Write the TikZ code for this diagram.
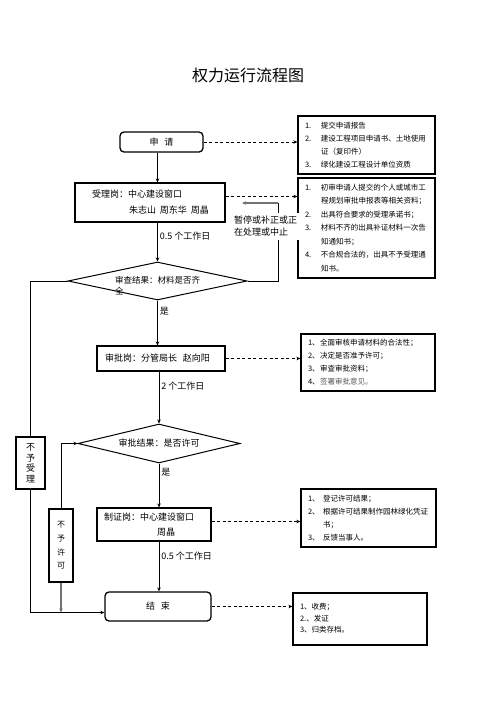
\documentclass[tikz,border=0pt]{standalone}
\usepackage{fontspec}
\setmainfont{Noto Sans CJK SC}
\usetikzlibrary{arrows.meta,shapes.geometric}
\tikzset{
  flow/.style  = {rectangle, draw, line width=1.1pt, align=left, inner ysep=0pt},
  term/.style  = {rectangle, rounded corners=4pt, draw, line width=1.3pt, inner sep=0pt},
  judge/.style = {diamond, draw, line width=1pt, inner sep=0pt},
  note/.style  = {rectangle, draw, line width=1.3pt, align=left,
                  font=\fontsize{7.5}{13}\selectfont, inner xsep=7pt, inner ysep=0pt},
  vbox/.style  = {rectangle, draw, line width=1.1pt, align=center, inner sep=0pt},
  arr/.style   = {-{Stealth[length=4pt,width=3.5pt]}, line width=0.9pt},
  darr/.style  = {arr, dash pattern=on 3pt off 2.5pt},
  garr/.style  = {arr, draw=black!55, line width=1.5pt},
  lbl/.style   = {inner sep=2pt},
}

\begin{document}
\begin{tikzpicture}[x=1pt, y=-1pt, font=\fontsize{9}{11}\selectfont]
\useasboundingbox (0,0) rectangle (496,702);

% title
\node[font=\fontsize{16}{18}\selectfont] (title) at (248,75) {权力运行流程图};

% main flow
\node[term, minimum width=83pt, minimum height=20pt] (apply) at (161.5,142) {申\hspace{6pt}请};
\node[flow, minimum height=39pt, inner xsep=8pt, text width=134pt,
      font=\fontsize{9}{16}\selectfont] (recv) at (150,202.5)
  {\hspace*{9pt}受理岗：中心建设窗口\\\hspace*{46pt}朱志山\hspace{4pt}周东华\hspace{4pt}周晶};
\node[judge, minimum width=179pt, minimum height=38pt,
      label={[align=left, yshift=-5pt, font=\fontsize{8.5}{11}\selectfont]center:审查结果：材料是否齐\\全}]
  (chk1) at (157.5,281) {};
\node[flow, minimum height=25pt, inner xsep=8pt, text width=112pt] (approve) at (161,358.5)
  {审批岗：分管局长\hspace{6pt}赵向阳};
\node[judge, minimum width=162pt, minimum height=39pt,
      label={center:审批结果：是否许可}] (chk2) at (159,443.5) {};
\node[flow, minimum height=33pt, inner xsep=7pt, text width=100pt,
      font=\fontsize{9}{15}\selectfont] (issue) at (154,524.5)
  {制证岗：中心建设窗口\\\hspace*{53pt}周晶};
\node[term, minimum width=106pt, minimum height=29pt] (end) at (158,606.5) {结\hspace{6pt}束};

% refusal boxes
\node[vbox, minimum width=29pt, minimum height=52pt, font=\fontsize{9}{10.5}\selectfont]
  (nosl) at (30.5,463) {不\\予\\受\\理};
\node[vbox, minimum width=24pt, minimum height=73pt, font=\fontsize{8}{13.7}\selectfont]
  (nopm) at (61,545.5) {不\\予\\许\\可};

% notes on the right
\node[note, minimum width=137pt, minimum height=58pt, text width=123pt] (n1) at (366.5,145) {%
  \begin{tabular}{@{}p{16pt}@{}l@{}}
  1. & 提交申请报告\\
  2. & 建设工程项目申请书、土地使用\\
     & 证（复印件）\\
  3. & 绿化建设工程设计单位资质
  \end{tabular}};
\node[note, minimum width=137pt, minimum height=100pt, text width=123pt,
      font=\fontsize{7.5}{13.5}\selectfont] (n2) at (366.5,228) {%
  \begin{tabular}{@{}p{16pt}@{}l@{}}
  1. & 初审申请人提交的个人或城市工\\
     & 程规划审批申报表等相关资料；\\
  2. & 出具符合要求的受理承诺书；\\
  3. & 材料不齐的出具补证材料一次告\\
     & 知通知书；\\
  4. & 不合规合法的，出具不予受理通\\
     & 知书。
  \end{tabular}};
\node[note, minimum width=134pt, minimum height=57pt, text width=120pt] (n3) at (368,362.5) {%
  \begin{tabular}{@{}p{12pt}@{}l@{}}
  1、 & 全面审核申请材料的合法性；\\
  2、 & 决定是否准予许可；\\
  3、 & 审查审批资料；\\
  4、 & \textcolor{black!65}{签署审批意见。}
  \end{tabular}};
\node[note, minimum width=135pt, minimum height=58pt, text width=121pt] (n4) at (368.5,518) {%
  \begin{tabular}{@{}p{15pt}@{}l@{}}
  1、 & 登记许可结果；\\
  2、 & 根据许可结果制作园林绿化凭证\\
      & 书；\\
  3、 & 反馈当事人。
  \end{tabular}};
\node[note, minimum width=134pt, minimum height=52pt, text width=120pt,
      font=\fontsize{7.5}{11.5}\selectfont] (n5) at (360,619) {%
  \begin{tabular}{@{}l@{}}
  1、收费；\\
  2.、发证\\
  3、归类存档。
  \end{tabular}};

% spine
\draw[arr] (apply.south -| chk1) -- (recv.north -| chk1);
\draw[arr] (recv.south -| chk1) -- node[lbl, right, pos=0.35] {0.5 个工作日} (chk1.north);
\draw[arr] (chk1.south) -- node[lbl, right, pos=0.25] {是} (approve.north -| chk1);
\draw[arr] (approve.south -| chk2) -- node[lbl, right, pos=0.28] {2 个工作日} (chk2.north);
\draw[arr] (chk2.south) -- node[lbl, right, pos=0.2] {是} (issue.north -| chk2);
\draw[arr] (issue.south -| chk2) -- node[lbl, right, pos=0.3] {0.5 个工作日} (end.north -| chk2);

% back loop: pause / correct
\coordinate (loopturn) at (278,203);
\coordinate (loopend) at (242,203);
\draw[line width=0.9pt] (chk1.east) -| (loopturn);
\draw[garr] (loopturn) -- (loopend)
  node[pos=1, anchor=north west, xshift=-12pt, yshift=-9pt, fill=white, align=left,
       font=\fontsize{9}{12}\selectfont] {暂停或补正或正\\在处理或中止};

% refusal lines
\coordinate (endin) at ([yshift=-6pt]end.west);
\draw[line width=0.9pt] (chk1.west) -| (nosl.north);
\draw[arr] (nosl.south) |- (endin);
\draw[{Stealth[length=4pt,width=3.5pt]}-, line width=0.9pt] (chk2.west) -| (nopm.north);
\draw[garr] (nopm.south) -- (nopm.south |- endin);

% dashed links to notes
\draw[darr] (apply.east) -- (apply.east -| n1.west);
\draw[darr] ([yshift=6pt]recv.east) -- ([yshift=6pt]recv.east -| n2.west);
\draw[darr] (approve.east) -- (approve.east -| n3.west);
\draw[darr] ([yshift=3pt]issue.east) -- ([yshift=3pt]issue.east -| n4.west);
\draw[darr] (end.east) -- (end.east -| n5.west);

\end{tikzpicture}
\end{document}
